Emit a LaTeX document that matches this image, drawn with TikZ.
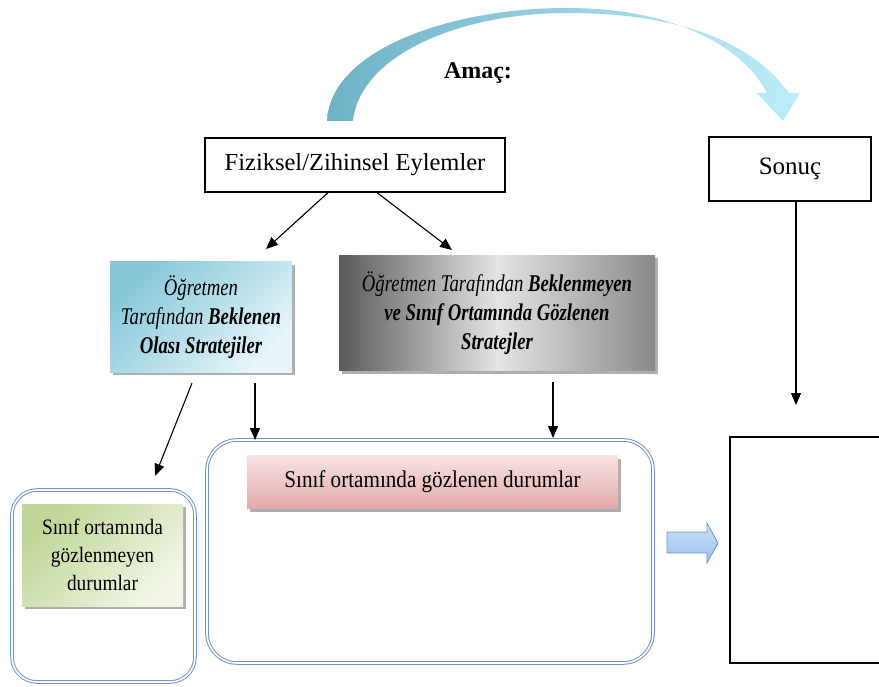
\documentclass[tikz,border=0pt]{standalone}
\usepackage{fontspec}
\setmainfont{Liberation Serif}
\newfontfamily\condit[FakeStretch=0.78]{Liberation Serif}
\newfontfamily\condrm[FakeStretch=0.88]{Liberation Serif}
\usetikzlibrary{arrows.meta,shadows}

\definecolor{arcdark}{HTML}{6FB2C6}
\definecolor{arclight}{HTML}{BDEDFA}
\definecolor{bluedark}{HTML}{86C8DA}
\definecolor{bluelight}{HTML}{E6F5F9}
\definecolor{graydark}{HTML}{5A5A5A}
\definecolor{graymid}{HTML}{E4E4E4}
\definecolor{grayright}{HTML}{8A8A8A}
\definecolor{greendark}{HTML}{C0D596}
\definecolor{greenlight}{HTML}{F1F6E6}
\definecolor{pinktop}{HTML}{F7E3E3}
\definecolor{pinkbot}{HTML}{E2A9A9}
\definecolor{frameblue}{HTML}{6F95CC}
\definecolor{blocktop}{HTML}{CADFF8}
\definecolor{blockbot}{HTML}{9DBFEE}

\begin{document}
\begin{tikzpicture}[x=1pt,y=-1pt,
  plainbox/.style={draw=black, line width=1.3pt, fill=white, inner sep=0pt},
  arr/.style={line width=1.1pt, -{Triangle[length=12pt,width=10pt]}},
  softshadow/.style={drop shadow={shadow xshift=3pt,shadow yshift=-3pt,fill=black!45,opacity=0.7}},
  roundframe/.style={draw=frameblue, double=white, double distance=1.6pt, line width=1pt, inner sep=0pt},
  stratbox/.style={softshadow, inner sep=0pt, align=center,
    font={\condit\itshape\fontsize{24}{29}\selectfont}},
  notebox/.style={softshadow, inner sep=0pt, align=center,
    font={\condrm\fontsize{22}{28}\selectfont}}
]
\useasboundingbox (0,0) rectangle (879,687);

% curved "Amaç" arrow from the actions box to the result box
\shade[left color=arcdark, right color=arclight]
  (327,121) .. controls (330,50) and (450,8) .. (567,8)
  .. controls (680,8) and (745,50) .. (767,93)
  -- (757,93) -- (783,121) -- (800,93) -- (789,93)
  .. controls (752,42) and (680,13) .. (567,13)
  .. controls (460,13) and (360,55) .. (353,121) -- cycle;
\node[font=\bfseries\fontsize{24}{29}\selectfont] (amac) at (478,73) {Amaç:};

% top row
\node[plainbox, minimum width=300pt, minimum height=54pt,
      font=\fontsize{24.5}{29}\selectfont] (fiz) at (355,165) {Fiziksel/Zihinsel Eylemler};
\node[plainbox, minimum width=162pt, minimum height=64pt,
      font=\fontsize{25}{29}\selectfont] (sonuc) at (790,169) {Sonuç};

% strategy boxes
\node[stratbox, minimum width=182pt, minimum height=110pt,
      top color=bluedark, bottom color=bluelight, shading angle=45] (beklenen) at (201,317)
  {Öğretmen\\Tarafından \textbf{Beklenen}\\\textbf{Olası Stratejiler}};
\node[stratbox, minimum width=316pt, minimum height=115pt,
      left color=graydark, right color=grayright, middle color=graymid] (beklenmeyen) at (497,313)
  {Öğretmen Tarafından \textbf{Beklenmeyen}\\\textbf{ve Sınıf Ortamında Gözlenen}\\\textbf{Stratejler}};

% observation frames
\node[roundframe, rounded corners=25pt, minimum width=183pt, minimum height=192pt] (solframe) at (103.5,586) {};
\node[roundframe, rounded corners=30pt, minimum width=446pt, minimum height=223pt] (ortaframe) at (430,551.5) {};

\node[notebox, minimum width=161pt, minimum height=102pt,
      top color=greendark, bottom color=greenlight, shading angle=45] (gozlenmeyen) at (102.5,555)
  {Sınıf ortamında\\gözlenmeyen\\durumlar};
\node[notebox, minimum width=371pt, minimum height=53pt,
      top color=pinktop, bottom color=pinkbot, font={\condrm\fontsize{24}{29}\selectfont}] (gozlenen) at (432.5,482)
  {Sınıf ortamında gözlenen durumlar};

% result frame, open on the right
\draw[line width=1.3pt] (890,437) -- (730,437) -- (730,663) -- (890,663);

% block arrow towards the result frame
\shade[top color=blocktop, bottom color=blockbot, draw=frameblue, line width=0.8pt]
  (667,532) -- (707,532) -- (707,523) -- (718,543) -- (707,563) -- (707,553) -- (667,553) -- cycle;

% connectors
\coordinate (f1) at ([xshift=-27pt]fiz.south);
\coordinate (f2) at ([xshift=22pt]fiz.south);
\coordinate (t1) at (266,249);
\coordinate (t2) at (452,250);
\draw[arr] (f1) -- (t1);
\draw[arr] (f2) -- (t2);

\coordinate (b1) at ([xshift=-9pt,yshift=-11pt]beklenen.south);
\coordinate (b2) at ([xshift=54pt,yshift=-11pt]beklenen.south);
\coordinate (g1) at ([xshift=56pt,yshift=-11pt]beklenmeyen.south);
\coordinate (l1) at (155,476);
\coordinate (m1) at (255,440);
\coordinate (m2) at (553,438);
\draw[arr] (b1) -- (l1);
\draw[arr] (b2) -- (m1);
\draw[arr] (g1) -- (m2);

\coordinate (s1) at ([xshift=6pt]sonuc.south);
\coordinate (s2) at (796,405);
\draw[arr] (s1) -- (s2);
\end{tikzpicture}
\end{document}
